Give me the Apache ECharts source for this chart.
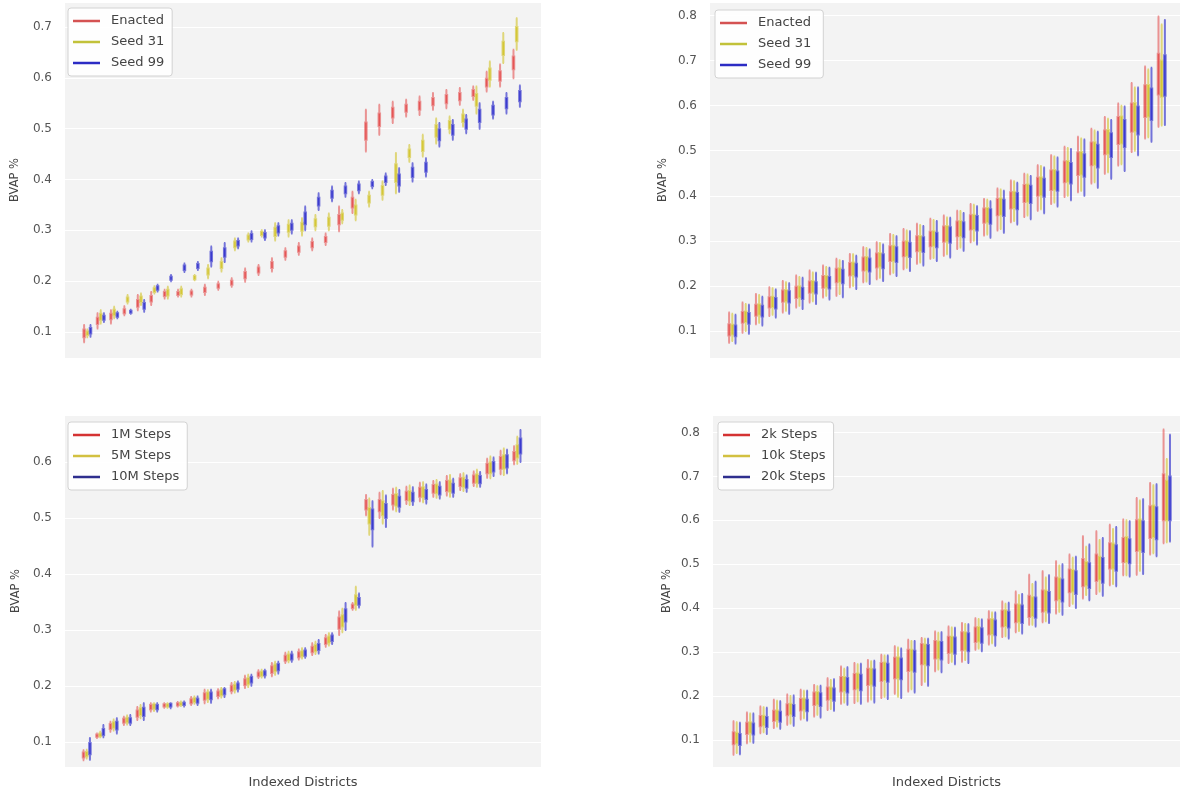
<!DOCTYPE html>
<html>
<head>
<meta charset="utf-8">
<script src="https://cdn.jsdelivr.net/npm/echarts@6/dist/echarts.min.js"></script>
<style>
html,body{margin:0;padding:0;background:#fff;}
#chart{width:1182px;height:794px;}
</style>
</head>
<body>
<div id="chart"></div>
<script>
// District index categories
const districts = ['1','2','3','4','5','6','7','8','9','10','11','12','13','14','15','16','17','18','19','20','21','22','23','24','25','26','27','28','29','30','31','32','33'];

// Each entry: [min, Q1, median, Q3, max] of BVAP share
// ---- Panel 1 (top-left)
const p1Enacted = [
[0.080,0.090,0.097,0.105,0.114],[0.107,0.116,0.122,0.128,0.137],[0.117,0.125,0.130,0.136,0.143],[0.133,0.137,0.141,0.145,0.151],
[0.143,0.150,0.156,0.163,0.173],[0.153,0.160,0.165,0.171,0.179],[0.166,0.171,0.175,0.179,0.183],[0.170,0.173,0.176,0.179,0.183],
[0.170,0.174,0.178,0.180,0.183],[0.173,0.179,0.183,0.187,0.193],[0.183,0.187,0.190,0.194,0.199],[0.189,0.193,0.197,0.201,0.206],
[0.199,0.206,0.212,0.218,0.225],[0.212,0.217,0.222,0.227,0.232],[0.219,0.226,0.232,0.238,0.245],[0.242,0.248,0.253,0.259,0.265],
[0.252,0.258,0.263,0.268,0.275],[0.261,0.267,0.272,0.277,0.284],[0.271,0.277,0.282,0.287,0.294],[0.298,0.312,0.320,0.330,0.347],
[0.334,0.345,0.355,0.364,0.376],[0.455,0.478,0.494,0.512,0.537],[0.488,0.505,0.517,0.530,0.547],[0.511,0.522,0.532,0.541,0.553],
[0.524,0.533,0.540,0.547,0.557],[0.527,0.537,0.545,0.553,0.563],[0.537,0.546,0.553,0.560,0.570],[0.540,0.550,0.558,0.566,0.576],
[0.547,0.556,0.563,0.570,0.580],[0.557,0.564,0.570,0.576,0.583],[0.573,0.583,0.590,0.598,0.612],[0.583,0.594,0.603,0.613,0.626],
[0.599,0.617,0.630,0.642,0.655]];
const p1Seed31 = [
[0.090,0.094,0.098,0.101,0.105],[0.117,0.124,0.130,0.136,0.143],[0.127,0.133,0.138,0.144,0.150],[0.156,0.160,0.164,0.168,0.173],
[0.153,0.159,0.164,0.170,0.176],[0.176,0.179,0.182,0.186,0.190],[0.166,0.172,0.177,0.183,0.189],[0.170,0.175,0.179,0.184,0.189],
[0.202,0.204,0.207,0.210,0.212],[0.206,0.213,0.219,0.225,0.232],[0.219,0.226,0.232,0.238,0.245],[0.261,0.267,0.272,0.278,0.284],
[0.278,0.282,0.286,0.290,0.294],[0.288,0.291,0.294,0.297,0.300],[0.280,0.289,0.297,0.305,0.314],[0.288,0.297,0.304,0.311,0.320],
[0.290,0.299,0.307,0.315,0.324],[0.300,0.308,0.315,0.322,0.330],[0.300,0.309,0.317,0.325,0.333],[0.314,0.321,0.327,0.333,0.340],
[0.320,0.331,0.340,0.349,0.360],[0.347,0.355,0.361,0.368,0.376],[0.360,0.370,0.378,0.387,0.396],[0.373,0.395,0.412,0.430,0.452],
[0.435,0.444,0.451,0.459,0.468],[0.445,0.456,0.466,0.476,0.488],[0.471,0.484,0.495,0.507,0.520],[0.491,0.500,0.507,0.515,0.524],
[0.504,0.513,0.520,0.528,0.537],[0.530,0.545,0.556,0.568,0.583],[0.583,0.596,0.607,0.618,0.632],[0.629,0.645,0.658,0.671,0.688],
[0.655,0.672,0.686,0.700,0.717]];
const p1Seed99 = [
[0.091,0.097,0.102,0.108,0.114],[0.120,0.124,0.128,0.132,0.137],[0.127,0.130,0.133,0.137,0.140],[0.136,0.138,0.140,0.142,0.144],
[0.140,0.146,0.151,0.157,0.163],[0.180,0.183,0.186,0.190,0.193],[0.200,0.203,0.206,0.209,0.212],[0.218,0.222,0.226,0.231,0.235],
[0.222,0.226,0.230,0.234,0.238],[0.229,0.239,0.248,0.258,0.268],[0.238,0.248,0.256,0.265,0.275],[0.265,0.270,0.274,0.279,0.284],
[0.278,0.283,0.288,0.293,0.298],[0.281,0.286,0.290,0.295,0.300],[0.290,0.296,0.302,0.308,0.314],[0.294,0.301,0.307,0.313,0.320],
[0.300,0.312,0.323,0.335,0.347],[0.340,0.349,0.356,0.364,0.373],[0.357,0.364,0.371,0.378,0.386],[0.366,0.373,0.379,0.386,0.393],
[0.373,0.379,0.384,0.390,0.396],[0.383,0.387,0.391,0.395,0.399],[0.389,0.395,0.400,0.406,0.412],[0.376,0.388,0.399,0.410,0.422],
[0.396,0.405,0.414,0.423,0.432],[0.406,0.415,0.424,0.433,0.442],[0.465,0.477,0.488,0.499,0.511],[0.478,0.488,0.497,0.507,0.517],
[0.491,0.500,0.509,0.518,0.527],[0.500,0.513,0.525,0.537,0.550],[0.520,0.528,0.536,0.545,0.553],[0.530,0.540,0.550,0.560,0.570],
[0.543,0.554,0.564,0.574,0.585]];

// ---- Panel 2 (top-right)
const p2Enacted = [
[0.074,0.090,0.100,0.115,0.141],[0.096,0.118,0.130,0.142,0.163],[0.115,0.134,0.145,0.158,0.182],[0.133,0.152,0.163,0.175,0.197],
[0.141,0.165,0.178,0.190,0.211],[0.152,0.173,0.185,0.198,0.223],[0.163,0.185,0.197,0.210,0.234],[0.174,0.196,0.208,0.222,0.245],
[0.178,0.208,0.223,0.238,0.260],[0.197,0.223,0.237,0.251,0.271],[0.208,0.234,0.249,0.263,0.286],[0.215,0.241,0.256,0.272,0.297],
[0.226,0.255,0.271,0.288,0.315],[0.237,0.266,0.282,0.298,0.326],[0.249,0.277,0.293,0.310,0.338],[0.260,0.288,0.304,0.320,0.349],
[0.267,0.298,0.315,0.332,0.356],[0.282,0.310,0.327,0.343,0.367],[0.297,0.325,0.341,0.357,0.382],[0.312,0.340,0.356,0.372,0.393],
[0.323,0.357,0.375,0.393,0.416],[0.341,0.372,0.390,0.408,0.434],[0.353,0.386,0.405,0.424,0.449],[0.367,0.400,0.420,0.440,0.468],
[0.382,0.413,0.434,0.456,0.490],[0.397,0.430,0.453,0.476,0.509],[0.408,0.446,0.471,0.496,0.531],[0.427,0.468,0.494,0.518,0.549],
[0.449,0.492,0.520,0.545,0.575],[0.467,0.515,0.549,0.575,0.605],[0.497,0.542,0.575,0.605,0.650],[0.527,0.575,0.612,0.645,0.687],
[0.553,0.625,0.672,0.715,0.798]];
const p2Seed31 = [
[0.078,0.092,0.102,0.114,0.138],[0.100,0.120,0.131,0.143,0.160],[0.118,0.136,0.147,0.159,0.180],[0.136,0.153,0.164,0.176,0.195],
[0.145,0.166,0.179,0.191,0.208],[0.156,0.175,0.187,0.199,0.220],[0.166,0.186,0.198,0.211,0.230],[0.178,0.197,0.209,0.222,0.242],
[0.182,0.209,0.224,0.239,0.257],[0.200,0.224,0.238,0.252,0.270],[0.210,0.235,0.250,0.264,0.284],[0.218,0.243,0.258,0.273,0.295],
[0.229,0.256,0.272,0.289,0.313],[0.240,0.267,0.283,0.299,0.323],[0.252,0.278,0.294,0.311,0.335],[0.262,0.289,0.305,0.321,0.346],
[0.270,0.299,0.316,0.333,0.352],[0.285,0.311,0.328,0.344,0.366],[0.300,0.326,0.342,0.358,0.380],[0.314,0.341,0.357,0.373,0.391],
[0.326,0.358,0.376,0.394,0.414],[0.344,0.373,0.391,0.409,0.432],[0.356,0.387,0.406,0.425,0.447],[0.370,0.401,0.421,0.441,0.466],
[0.385,0.414,0.435,0.457,0.487],[0.400,0.431,0.454,0.477,0.506],[0.411,0.447,0.472,0.497,0.527],[0.430,0.469,0.495,0.519,0.545],
[0.452,0.493,0.521,0.546,0.571],[0.470,0.516,0.550,0.576,0.600],[0.500,0.543,0.576,0.606,0.640],[0.530,0.576,0.613,0.646,0.680],
[0.556,0.620,0.665,0.700,0.780]];
const p2Seed99 = [
[0.072,0.088,0.098,0.112,0.136],[0.094,0.116,0.128,0.140,0.158],[0.112,0.132,0.143,0.156,0.176],[0.130,0.150,0.161,0.173,0.192],
[0.138,0.163,0.176,0.188,0.206],[0.149,0.171,0.183,0.196,0.218],[0.160,0.183,0.195,0.208,0.229],[0.170,0.194,0.206,0.220,0.240],
[0.175,0.206,0.221,0.236,0.255],[0.193,0.221,0.235,0.249,0.267],[0.204,0.232,0.247,0.261,0.281],[0.211,0.239,0.254,0.270,0.292],
[0.222,0.253,0.269,0.286,0.310],[0.233,0.264,0.280,0.296,0.321],[0.245,0.275,0.291,0.308,0.333],[0.255,0.286,0.302,0.318,0.344],
[0.263,0.296,0.313,0.330,0.351],[0.278,0.308,0.325,0.341,0.362],[0.292,0.323,0.339,0.355,0.377],[0.307,0.338,0.354,0.370,0.388],
[0.318,0.355,0.373,0.391,0.411],[0.336,0.370,0.388,0.406,0.429],[0.348,0.384,0.403,0.422,0.444],[0.361,0.398,0.418,0.438,0.463],
[0.376,0.411,0.432,0.454,0.485],[0.390,0.427,0.450,0.473,0.504],[0.400,0.442,0.467,0.492,0.525],[0.418,0.463,0.489,0.513,0.542],
[0.438,0.486,0.514,0.539,0.568],[0.455,0.508,0.542,0.568,0.598],[0.490,0.536,0.568,0.598,0.640],[0.520,0.568,0.605,0.638,0.684],
[0.557,0.622,0.668,0.712,0.790]];

// ---- Panel 3 (bottom-left)
const p3Steps1M = [
[0.067,0.072,0.077,0.081,0.085],[0.107,0.109,0.111,0.113,0.115],[0.118,0.123,0.127,0.132,0.136],[0.130,0.134,0.137,0.141,0.145],
[0.139,0.145,0.150,0.156,0.162],[0.154,0.158,0.162,0.166,0.169],[0.161,0.163,0.165,0.167,0.169],[0.163,0.165,0.167,0.169,0.171],
[0.166,0.169,0.172,0.176,0.180],[0.169,0.175,0.181,0.187,0.193],[0.178,0.182,0.186,0.190,0.194],[0.187,0.191,0.195,0.200,0.205],
[0.196,0.201,0.206,0.212,0.218],[0.214,0.217,0.220,0.224,0.228],[0.217,0.223,0.229,0.235,0.241],[0.241,0.245,0.249,0.254,0.259],
[0.247,0.251,0.256,0.260,0.265],[0.255,0.260,0.265,0.270,0.276],[0.270,0.275,0.280,0.285,0.291],[0.291,0.302,0.312,0.322,0.333],
[0.336,0.339,0.342,0.345,0.348],[0.505,0.515,0.523,0.532,0.541],[0.500,0.512,0.522,0.532,0.545],[0.515,0.524,0.532,0.541,0.552],
[0.525,0.532,0.539,0.547,0.556],[0.530,0.538,0.546,0.554,0.563],[0.538,0.545,0.552,0.559,0.566],[0.540,0.548,0.557,0.566,0.575],
[0.550,0.557,0.564,0.571,0.578],[0.557,0.563,0.569,0.576,0.583],[0.572,0.580,0.588,0.597,0.606],[0.578,0.588,0.598,0.609,0.620],
[0.596,0.603,0.610,0.618,0.628]];
const p3Steps5M = [
[0.070,0.074,0.078,0.082,0.086],[0.108,0.110,0.112,0.115,0.118],[0.120,0.125,0.130,0.135,0.140],[0.131,0.135,0.139,0.143,0.147],
[0.142,0.148,0.154,0.160,0.166],[0.155,0.159,0.163,0.167,0.169],[0.161,0.163,0.165,0.167,0.169],[0.164,0.166,0.168,0.170,0.172],
[0.168,0.171,0.174,0.178,0.181],[0.171,0.177,0.183,0.188,0.192],[0.179,0.183,0.188,0.192,0.196],[0.188,0.193,0.197,0.202,0.207],
[0.198,0.203,0.208,0.214,0.220],[0.215,0.218,0.221,0.225,0.229],[0.220,0.226,0.232,0.238,0.243],[0.242,0.246,0.251,0.256,0.261],
[0.249,0.253,0.258,0.262,0.267],[0.257,0.262,0.267,0.273,0.279],[0.272,0.277,0.282,0.288,0.294],[0.296,0.306,0.316,0.326,0.338],
[0.336,0.345,0.352,0.362,0.377],[0.470,0.490,0.505,0.518,0.535],[0.490,0.505,0.518,0.530,0.548],[0.512,0.522,0.532,0.543,0.554],
[0.523,0.531,0.540,0.548,0.558],[0.528,0.537,0.546,0.555,0.564],[0.536,0.544,0.552,0.560,0.568],[0.538,0.547,0.557,0.567,0.577],
[0.548,0.556,0.564,0.572,0.580],[0.556,0.563,0.570,0.578,0.586],[0.571,0.580,0.589,0.599,0.610],[0.577,0.588,0.600,0.612,0.624],
[0.597,0.608,0.618,0.630,0.645]];
const p3Steps10M = [
[0.068,0.078,0.088,0.098,0.107],[0.108,0.112,0.117,0.123,0.130],[0.115,0.122,0.130,0.136,0.142],[0.130,0.134,0.138,0.142,0.148],
[0.139,0.146,0.153,0.161,0.169],[0.154,0.158,0.163,0.166,0.169],[0.160,0.163,0.166,0.168,0.169],[0.163,0.166,0.168,0.170,0.172],
[0.166,0.170,0.173,0.177,0.181],[0.170,0.176,0.182,0.188,0.193],[0.180,0.185,0.190,0.194,0.196],[0.190,0.195,0.199,0.204,0.208],
[0.200,0.206,0.211,0.216,0.220],[0.215,0.219,0.222,0.226,0.229],[0.222,0.228,0.234,0.239,0.243],[0.243,0.247,0.252,0.256,0.261],
[0.250,0.254,0.259,0.263,0.267],[0.258,0.264,0.269,0.275,0.282],[0.275,0.280,0.285,0.290,0.294],[0.300,0.315,0.326,0.337,0.348],
[0.340,0.345,0.350,0.357,0.365],[0.449,0.480,0.500,0.515,0.530],[0.484,0.500,0.513,0.525,0.540],[0.511,0.520,0.529,0.538,0.550],
[0.523,0.530,0.537,0.545,0.555],[0.526,0.534,0.542,0.550,0.560],[0.535,0.542,0.549,0.556,0.564],[0.538,0.545,0.553,0.561,0.570],
[0.547,0.554,0.561,0.568,0.576],[0.556,0.562,0.568,0.575,0.582],[0.575,0.583,0.592,0.600,0.608],[0.580,0.590,0.601,0.612,0.622],
[0.600,0.615,0.628,0.642,0.657]];

// ---- Panel 4 (bottom-right)
const p4Steps2k = [
[0.066,0.090,0.103,0.117,0.142],[0.092,0.113,0.126,0.139,0.162],[0.115,0.131,0.142,0.154,0.176],[0.127,0.143,0.154,0.166,0.191],
[0.134,0.156,0.168,0.181,0.203],[0.146,0.167,0.180,0.193,0.214],[0.153,0.179,0.194,0.208,0.225],[0.168,0.191,0.205,0.219,0.240],
[0.182,0.210,0.226,0.243,0.267],[0.184,0.215,0.232,0.250,0.275],[0.187,0.225,0.244,0.262,0.282],[0.195,0.234,0.256,0.275,0.294],
[0.205,0.240,0.263,0.287,0.313],[0.210,0.257,0.282,0.305,0.328],[0.225,0.272,0.297,0.318,0.332],[0.256,0.285,0.304,0.325,0.347],
[0.275,0.298,0.316,0.335,0.358],[0.278,0.304,0.324,0.345,0.366],[0.305,0.323,0.339,0.356,0.377],[0.317,0.340,0.357,0.374,0.393],
[0.334,0.358,0.376,0.394,0.415],[0.345,0.368,0.386,0.408,0.438],[0.362,0.380,0.402,0.428,0.476],[0.368,0.392,0.415,0.440,0.484],
[0.388,0.418,0.444,0.470,0.507],[0.405,0.436,0.462,0.488,0.522],[0.422,0.450,0.478,0.512,0.564],[0.432,0.462,0.490,0.522,0.575],
[0.452,0.490,0.520,0.548,0.590],[0.475,0.505,0.533,0.560,0.602],[0.476,0.530,0.571,0.600,0.651],[0.522,0.560,0.598,0.632,0.685],
[0.548,0.600,0.651,0.705,0.807]];
const p4Steps10k = [
[0.070,0.092,0.104,0.116,0.140],[0.096,0.116,0.128,0.140,0.160],[0.117,0.133,0.143,0.155,0.174],[0.130,0.145,0.155,0.167,0.189],
[0.137,0.158,0.169,0.182,0.200],[0.149,0.169,0.181,0.194,0.212],[0.157,0.181,0.196,0.209,0.222],[0.170,0.193,0.206,0.219,0.236],
[0.185,0.212,0.227,0.243,0.262],[0.188,0.217,0.234,0.251,0.272],[0.192,0.226,0.245,0.262,0.279],[0.198,0.236,0.257,0.276,0.292],
[0.198,0.240,0.264,0.288,0.310],[0.215,0.258,0.283,0.305,0.325],[0.232,0.272,0.298,0.317,0.330],[0.260,0.286,0.305,0.324,0.344],
[0.278,0.299,0.317,0.335,0.356],[0.282,0.305,0.325,0.345,0.364],[0.308,0.324,0.340,0.357,0.375],[0.320,0.341,0.358,0.375,0.390],
[0.336,0.359,0.377,0.395,0.410],[0.348,0.369,0.387,0.408,0.430],[0.362,0.382,0.402,0.425,0.455],[0.370,0.394,0.416,0.440,0.470],
[0.392,0.420,0.444,0.468,0.497],[0.410,0.438,0.462,0.487,0.515],[0.430,0.452,0.478,0.505,0.540],[0.438,0.465,0.490,0.517,0.555],
[0.455,0.490,0.520,0.547,0.580],[0.475,0.505,0.534,0.562,0.600],[0.485,0.532,0.572,0.602,0.645],[0.525,0.562,0.600,0.634,0.680],
[0.550,0.600,0.645,0.690,0.740]];
const p4Steps20k = [
[0.067,0.088,0.100,0.113,0.139],[0.093,0.112,0.124,0.137,0.160],[0.113,0.129,0.140,0.152,0.173],[0.125,0.141,0.152,0.164,0.188],
[0.132,0.154,0.166,0.179,0.201],[0.144,0.165,0.178,0.191,0.212],[0.151,0.177,0.192,0.206,0.223],[0.166,0.189,0.203,0.217,0.238],
[0.180,0.208,0.224,0.241,0.265],[0.182,0.213,0.230,0.248,0.273],[0.185,0.223,0.242,0.260,0.280],[0.193,0.232,0.254,0.273,0.292],
[0.195,0.238,0.261,0.285,0.308],[0.208,0.255,0.280,0.303,0.325],[0.223,0.270,0.295,0.316,0.330],[0.254,0.283,0.302,0.323,0.345],
[0.272,0.296,0.314,0.333,0.355],[0.275,0.302,0.322,0.343,0.363],[0.302,0.321,0.337,0.354,0.374],[0.314,0.338,0.355,0.372,0.390],
[0.331,0.356,0.374,0.392,0.412],[0.342,0.366,0.384,0.406,0.432],[0.358,0.378,0.399,0.424,0.460],[0.366,0.390,0.412,0.437,0.475],
[0.385,0.415,0.440,0.465,0.500],[0.400,0.432,0.458,0.484,0.517],[0.418,0.446,0.474,0.502,0.545],[0.428,0.458,0.486,0.514,0.560],
[0.450,0.485,0.515,0.543,0.585],[0.472,0.502,0.530,0.557,0.598],[0.478,0.528,0.568,0.598,0.648],[0.518,0.557,0.595,0.630,0.682],
[0.552,0.600,0.650,0.700,0.795]];

const seriesNames = [
  ['Enacted','Seed 31','Seed 99'],
  ['Enacted ','Seed 31 ','Seed 99 '],
  ['1M Steps','5M Steps','10M Steps'],
  ['2k Steps','10k Steps','20k Steps']
];
const seriesValues = [
  [p1Enacted, p1Seed31, p1Seed99],
  [p2Enacted, p2Seed31, p2Seed99],
  [p3Steps1M, p3Steps5M, p3Steps10M],
  [p4Steps2k, p4Steps10k, p4Steps20k]
];
const yName = 'BVAP %';
const xNames = ['', '', 'Indexed Districts', 'Indexed Districts'];

// ---- layout / style (not data)
const layout = [
  {bg:{left:65, top:2, width:476, height:356}, dataLeft:80.6, dataWidth:442.8, min:0.049, max:0.749, nameGap:44, legend:{left:68, top:8}},
  {bg:{left:710, top:2, width:470, height:356}, dataLeft:725.6, dataWidth:442.8, min:0.04, max:0.83, nameGap:41, legend:{left:715, top:10}},
  {bg:{left:65, top:415, width:476, height:352}, dataLeft:80.0, dataWidth:444.0, min:0.055, max:0.684, nameGap:43, legend:{left:68, top:422}},
  {bg:{left:713, top:415, width:467, height:352}, dataLeft:730.0, dataWidth:443.5, min:0.038, max:0.840, nameGap:40, legend:{left:718, top:422}}
];
const fills = ['rgba(225,40,40,0.6)','rgba(205,190,0,0.6)','rgba(25,25,200,0.65)'];
const strokes = ['rgba(225,50,50,0.5)','rgba(205,190,20,0.55)','rgba(30,30,200,0.6)'];
const legendColors = [
  ['#d45252','#c2c23a','#2c2cc4'],
  ['#d45252','#c2c23a','#2c2cc4'],
  ['#d43232','#d2c040','#2e2e8e'],
  ['#d43232','#d2c040','#2e2e8e']
];
const FONT = 'DejaVu Sans';

const grid = [], xAxis = [], yAxis = [], series = [], legend = [];
layout.forEach((L, p) => {
  const gBg = grid.length;
  grid.push({left:L.bg.left, top:L.bg.top, width:L.bg.width, height:L.bg.height, show:true, backgroundColor:'#f3f3f3', borderWidth:0});
  const gData = grid.length;
  grid.push({left:L.dataLeft, top:L.bg.top, width:L.dataWidth, height:L.bg.height});
  xAxis.push({gridIndex:gBg, type:'category', data:districts,
    axisLine:{show:false}, axisTick:{show:false}, axisLabel:{show:false}, splitLine:{show:false},
    name:xNames[p], nameLocation:'middle', nameGap:9,
    nameTextStyle:{fontFamily:FONT, fontSize:13, color:'#444', verticalAlign:'top'}});
  xAxis.push({gridIndex:gData, type:'category', data:districts, show:false});
  yAxis.push({gridIndex:gBg, type:'value', min:L.min, max:L.max, splitNumber:7, minInterval:0.1, maxInterval:0.1,
    axisLine:{show:false}, axisTick:{show:false},
    axisLabel:{fontFamily:FONT, fontSize:12, color:'#555', margin:13, showMinLabel:false, showMaxLabel:false},
    splitLine:{show:true, lineStyle:{color:'#ffffff', width:1}},
    name:yName, nameLocation:'middle', nameGap:L.nameGap,
    nameTextStyle:{fontFamily:FONT, fontSize:11.5, color:'#444'}});
  yAxis.push({gridIndex:gData, type:'value', min:L.min, max:L.max, show:false, splitLine:{show:false}});
  seriesNames[p].forEach((nm, k) => {
    series.push({
      type:'boxplot', name:nm, xAxisIndex:gData, yAxisIndex:gData,
      data:seriesValues[p][k],
      boxWidth:[1.5,1.5],
      itemStyle:{color:fills[k], borderColor:strokes[k], borderWidth:2},
      emphasis:{disabled:true},
      z:2+k
    });
  });
  legend.push({
    left:L.legend.left, top:L.legend.top, orient:'vertical',
    data:seriesNames[p].map((nm, k) => ({name:nm, itemStyle:{color:legendColors[p][k], borderWidth:0}})),
    icon:'rect', itemWidth:27, itemHeight:2.5, itemGap:5,
    padding:[5,8,5,5],
    backgroundColor:'rgba(255,255,255,0.85)', borderColor:'#d2d2d2', borderWidth:1, borderRadius:3,
    textStyle:{fontFamily:FONT, fontSize:13, color:'#444', lineHeight:16, padding:[0,0,0,6]},
    selectedMode:false
  });
});

const chart = echarts.init(document.getElementById('chart'), null, {renderer:'canvas'});
chart.setOption({
  animation:false,
  backgroundColor:'#ffffff',
  grid, xAxis, yAxis, series,
  legend: legend
});
</script>
</body>
</html>
